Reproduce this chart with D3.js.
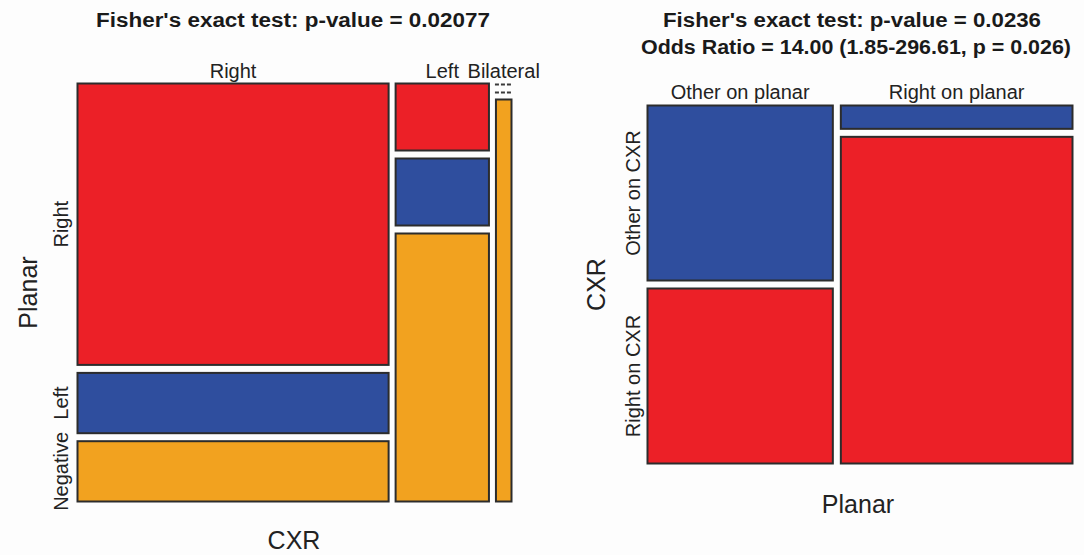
<!DOCTYPE html>
<html>
<head>
<meta charset="utf-8">
<script src="https://cdn.jsdelivr.net/npm/d3@7"></script>
<style>
  html, body { margin: 0; padding: 0; background: #fdfdfd; }
  svg { display: block; }
  text { font-family: "Liberation Sans", Arial, sans-serif; fill: #222; }
</style>
</head>
<body>
<svg id="chart" width="1084" height="555"></svg>
<script>
// ---- Data (left mosaic: CXR columns x Planar rows) ----
const cxrLevels = ["Right", "Left", "Bilateral"];
const planarLevels = ["Right", "Left", "Negative"];
// counts per CXR column, in planar order [Right, Left, Negative]
const countsCxrRight = [14, 3, 3];
const countsCxrLeft = [1, 1, 4];
const countsCxrBilateral = [0, 0, 1];
const leftTitle = "Fisher's exact test: p-value = 0.02077";

// ---- Data (right mosaic: Planar columns x CXR rows) ----
const planar2Levels = ["Other on planar", "Right on planar"];
const cxr2Levels = ["Other on CXR", "Right on CXR"];
const countsOtherPlanar = [6, 6];   // [Other on CXR, Right on CXR]
const countsRightPlanar = [1, 14];
const rightTitle1 = "Fisher's exact test: p-value = 0.0236";
const rightTitle2 = "Odds Ratio = 14.00 (1.85-296.61, p = 0.026)";

const RED = "#ec2027", BLUE = "#2f4e9e", ORANGE = "#f2a21f";
const leftFill = d3.scaleOrdinal().domain(planarLevels).range([RED, BLUE, ORANGE]);
const rightFill = d3.scaleOrdinal().domain(cxr2Levels).range([BLUE, RED]);

const svg = d3.select("#chart");

function mosaic(g, colLevels, colCounts, rowLevels, fill, box, gapX, gapY) {
  const colTotals = colCounts.map(c => d3.sum(c));
  const total = d3.sum(colTotals);
  const x = d3.scaleLinear().domain([0, total])
    .range([box.x0, box.x1 - gapX * (colLevels.length - 1)]);
  const cumCols = d3.cumsum([0, ...colTotals]);
  const cols = [];
  colLevels.forEach((col, i) => {
    const cx0 = x(cumCols[i]) + i * gapX;
    const cx1 = x(cumCols[i + 1]) + i * gapX;
    const counts = colCounts[i];
    const y = d3.scaleLinear().domain([0, d3.sum(counts)])
      .range([box.y0, box.y1 - gapY * (rowLevels.length - 1)]);
    const cum = d3.cumsum([0, ...counts]);
    const cells = rowLevels.map((row, j) => ({
      row, count: counts[j],
      x0: cx0, x1: cx1,
      y0: y(cum[j]) + j * gapY, y1: y(cum[j + 1]) + j * gapY
    }));
    cols.push({ col, x0: cx0, x1: cx1, cells });
  });
  cols.forEach(c => {
    const gc = g.append("g");
    gc.selectAll("rect").data(c.cells.filter(d => d.count > 0)).join("rect")
      .attr("x", d => d.x0).attr("y", d => d.y0)
      .attr("width", d => d.x1 - d.x0).attr("height", d => d.y1 - d.y0)
      .attr("fill", d => fill(d.row))
      .attr("stroke", "#2c2c2c").attr("stroke-width", 2);
    gc.selectAll("line").data(c.cells.filter(d => d.count === 0)).join("line")
      .attr("x1", d => d.x0 - 1).attr("x2", d => d.x1 + 1)
      .attr("y1", d => d.y0 + 1).attr("y2", d => d.y0 + 1)
      .attr("stroke", "#3a3a3a").attr("stroke-width", 2)
      .attr("stroke-dasharray", "4,2");
  });
  return cols;
}

// ---------- Left mosaic ----------
const gl = svg.append("g");
const leftBox = { x0: 77.5, x1: 511.5, y0: 83.5, y1: 501.5 };
const colsL = mosaic(gl, cxrLevels, [countsCxrRight, countsCxrLeft, countsCxrBilateral],
  planarLevels, leftFill, leftBox, 7, 8);

gl.append("text").attr("x", 293).attr("y", 27)
  .attr("text-anchor", "middle").attr("font-weight", "bold").attr("font-size", 20)
  .attr("textLength", 394).attr("lengthAdjust", "spacingAndGlyphs")
  .style("fill", "#1a1a1a").text(leftTitle);

gl.selectAll("text.colLab").data(colsL).join("text").attr("class", "colLab")
  .attr("x", d => (d.x0 + d.x1) / 2).attr("y", 78)
  .attr("text-anchor", "middle").attr("font-size", 20).text(d => d.col);

// row labels from first column geometry
gl.selectAll("text.rowLab").data(colsL[0].cells).join("text").attr("class", "rowLab")
  .attr("transform", d => `translate(68,${(d.y0 + d.y1) / 2}) rotate(-90)`)
  .attr("text-anchor", "middle").attr("font-size", 20).text(d => d.row);

gl.append("text").attr("x", 294).attr("y", 549)
  .attr("text-anchor", "middle").attr("font-size", 25).text("CXR");
gl.append("text")
  .attr("transform", `translate(37,${(leftBox.y0 + leftBox.y1) / 2}) rotate(-90)`)
  .attr("text-anchor", "middle").attr("font-size", 25).text("Planar");

// ---------- Right mosaic ----------
const gr = svg.append("g");
const rightBox = { x0: 647.5, x1: 1072.5, y0: 105.5, y1: 463.5 };
const colsR = mosaic(gr, planar2Levels, [countsOtherPlanar, countsRightPlanar],
  cxr2Levels, rightFill, rightBox, 8, 8);

gr.append("text").attr("x", 852).attr("y", 27)
  .attr("text-anchor", "middle").attr("font-weight", "bold").attr("font-size", 20)
  .attr("textLength", 378).attr("lengthAdjust", "spacingAndGlyphs")
  .style("fill", "#1a1a1a").text(rightTitle1);
gr.append("text").attr("x", 856).attr("y", 54)
  .attr("text-anchor", "middle").attr("font-weight", "bold").attr("font-size", 20)
  .attr("textLength", 430).attr("lengthAdjust", "spacingAndGlyphs")
  .style("fill", "#1a1a1a").text(rightTitle2);

gr.selectAll("text.colLab").data(colsR).join("text").attr("class", "colLab")
  .attr("x", d => (d.x0 + d.x1) / 2).attr("y", 99)
  .attr("text-anchor", "middle").attr("font-size", 20).text(d => d.col);

gr.selectAll("text.rowLab").data(colsR[0].cells).join("text").attr("class", "rowLab")
  .attr("transform", d => `translate(640,${(d.y0 + d.y1) / 2}) rotate(-90)`)
  .attr("text-anchor", "middle").attr("font-size", 20).text(d => d.row);

gr.append("text").attr("x", 858).attr("y", 513)
  .attr("text-anchor", "middle").attr("font-size", 25).text("Planar");
gr.append("text")
  .attr("transform", `translate(605,${(rightBox.y0 + rightBox.y1) / 2}) rotate(-90)`)
  .attr("text-anchor", "middle").attr("font-size", 25).text("CXR");
</script>
</body>
</html>
